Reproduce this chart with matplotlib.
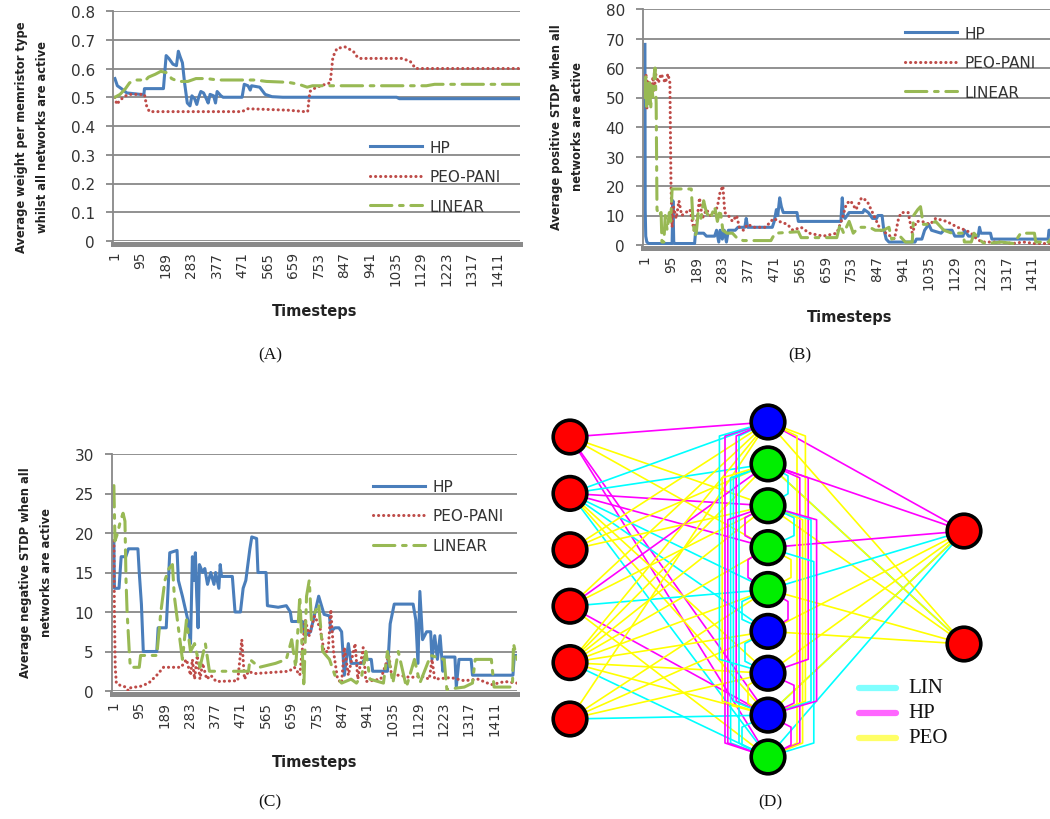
import matplotlib
matplotlib.use("Agg")
import matplotlib.pyplot as plt
from matplotlib.patches import Circle
import numpy as np

# --- data -----------------------------------------------------------------
tick_steps = [1, 95, 189, 283, 377, 471, 565, 659, 753, 847, 941, 1035, 1129, 1223, 1317, 1411]
series_names = ["HP", "PEO-PANI", "LINEAR"]

# (A) average weight per memristor type
hp_a = [(1, 0.565), (10, 0.54), (25, 0.53), (45, 0.515), (95, 0.51), (108, 0.51), (110, 0.53), (180, 0.53),
        (190, 0.645), (200, 0.635), (215, 0.615), (228, 0.61), (235, 0.66), (242, 0.64), (250, 0.62),
        (258, 0.55), (268, 0.48), (278, 0.47), (285, 0.505), (295, 0.495), (303, 0.475), (310, 0.5),
        (318, 0.52), (328, 0.515), (338, 0.495), (345, 0.48), (352, 0.51), (365, 0.505), (372, 0.48),
        (378, 0.52), (392, 0.505), (400, 0.5), (470, 0.5), (478, 0.545), (492, 0.54), (500, 0.525),
        (505, 0.54), (535, 0.535), (555, 0.51), (580, 0.502), (620, 0.5), (1040, 0.5), (1050, 0.495),
        (1495, 0.495)]
peo_a = [(1, 0.50), (8, 0.475), (20, 0.49), (40, 0.505), (60, 0.51), (110, 0.51), (118, 0.47), (128, 0.45),
         (140, 0.45), (470, 0.45), (480, 0.455), (490, 0.46), (640, 0.455), (700, 0.45), (712, 0.45),
         (720, 0.52), (735, 0.53), (760, 0.54), (795, 0.55), (805, 0.64), (820, 0.67), (850, 0.675),
         (880, 0.66), (895, 0.64), (905, 0.635), (1060, 0.635), (1090, 0.625), (1110, 0.60), (1495, 0.60)]
lin_a = [(1, 0.50), (20, 0.51), (40, 0.53), (55, 0.55), (75, 0.56), (100, 0.56), (110, 0.555), (125, 0.57),
         (150, 0.58), (170, 0.59), (195, 0.585), (210, 0.565), (235, 0.555), (270, 0.555), (300, 0.565),
         (340, 0.565), (380, 0.56), (520, 0.56), (560, 0.555), (640, 0.552), (680, 0.545), (710, 0.535),
         (730, 0.54), (1150, 0.54), (1180, 0.545), (1495, 0.545)]

# (B) average positive STDP
hp_b = [(1, 68), (2, 12), (4, 3), (8, 1), (15, 0.5), (100, 0.5), (103, 15), (106, 1), (110, 0.5), (182, 0.5),
        (185, 4), (215, 4), (225, 3), (255, 3), (262, 5), (270, 1), (275, 5), (283, 2), (290, 5), (298, 1),
        (305, 5), (330, 5), (340, 6), (365, 6), (370, 9), (375, 6), (465, 6), (472, 8), (480, 12), (485, 10),
        (492, 16), (498, 13), (505, 11), (555, 11), (560, 8), (715, 8), (720, 16), (724, 10), (730, 9),
        (745, 11), (795, 11), (800, 12), (815, 11), (830, 9), (845, 9), (850, 10), (865, 10), (870, 6),
        (880, 2), (890, 1), (985, 1), (990, 2), (1010, 2), (1020, 5), (1035, 7), (1045, 5), (1080, 4),
        (1090, 5), (1120, 5), (1130, 3), (1160, 3), (1165, 5), (1180, 3), (1215, 3), (1220, 6), (1225, 4),
        (1260, 4), (1265, 2), (1470, 2), (1473, 5), (1495, 5)]
peo_b = [(1, 50), (5, 58), (8, 46), (12, 56), (16, 48), (20, 55), (25, 50), (30, 57), (35, 52), (40, 58),
         (50, 55), (60, 58), (75, 55), (85, 58), (92, 55), (96, 20), (100, 6), (105, 13), (115, 9), (125, 15),
         (135, 10), (150, 11), (165, 12), (180, 5), (190, 8), (200, 16), (210, 9), (225, 12), (240, 10),
         (255, 11), (265, 13), (275, 18), (285, 20), (292, 11), (305, 10), (320, 8), (335, 10), (345, 6),
         (360, 5), (375, 7), (400, 6), (440, 6), (470, 9), (490, 8), (520, 7), (540, 5), (570, 6), (600, 4),
         (650, 3), (700, 4), (720, 9), (735, 14), (750, 15), (770, 12), (790, 16), (810, 15), (825, 12),
         (840, 9), (860, 5), (880, 4), (910, 2), (925, 9), (935, 11), (960, 11), (975, 4), (990, 8),
         (1010, 8), (1040, 7), (1060, 9), (1100, 8), (1140, 6), (1170, 5), (1190, 4), (1210, 2), (1230, 1),
         (1300, 1), (1340, 0.5), (1380, 1), (1420, 0.5), (1495, 0.5)]
lin_b = [(1, 50), (4, 57), (7, 47), (10, 55), (14, 48), (18, 56), (22, 46), (26, 54), (30, 50), (35, 58),
         (38, 60), (42, 48), (45, 12), (52, 10), (60, 11), (63, 1), (70, 1), (75, 10), (82, 5), (90, 11),
         (95, 8), (100, 19), (170, 19), (175, 10), (182, 3), (188, 4), (195, 11), (205, 9), (215, 15),
         (225, 11), (240, 9), (255, 13), (265, 8), (275, 12), (285, 5), (300, 4), (320, 4), (340, 2),
         (360, 1.5), (460, 1.5), (475, 4), (560, 4.5), (570, 2.5), (700, 2.5), (712, 7), (725, 4), (745, 8),
         (760, 4), (780, 6), (820, 6), (840, 5), (870, 5), (890, 6), (900, 2), (930, 3), (950, 1), (975, 1),
         (980, 10), (995, 12), (1005, 13), (1015, 7), (1040, 7), (1060, 8), (1090, 5), (1120, 4), (1160, 4),
         (1165, 1), (1190, 1), (1200, 4), (1230, 1), (1240, 0.5), (1300, 1), (1345, 0.5), (1370, 4),
         (1420, 4), (1425, 1), (1475, 1), (1480, 4), (1495, 4)]

# (C) average negative STDP
hp_c = [(1, 19), (3, 13), (20, 13), (28, 17), (45, 17), (55, 18), (90, 18), (95, 15), (103, 11), (110, 5),
        (160, 5), (165, 8), (195, 8), (202, 13), (208, 17.5), (235, 17.8), (240, 14), (255, 12), (275, 9),
        (285, 6), (292, 17), (298, 14), (303, 17.5), (308, 12), (313, 8), (318, 16), (330, 15), (338, 15.5),
        (348, 13.5), (360, 15), (372, 13.5), (378, 15), (390, 13), (395, 16), (400, 14.5), (440, 14.5),
        (450, 10), (470, 10), (480, 13), (490, 14), (505, 18), (512, 19.5), (530, 19.3), (535, 15), (565, 15),
        (570, 10.8), (610, 10.6), (640, 10.8), (655, 10), (660, 8.8), (700, 8.8), (710, 7), (730, 7.5),
        (740, 9), (760, 12), (780, 9.7), (800, 9.5), (805, 7.5), (820, 8), (835, 8), (845, 7.5), (855, 2),
        (870, 6), (880, 3.5), (920, 3.5), (930, 4), (955, 4), (960, 2.5), (1015, 2.5), (1025, 8.5),
        (1040, 11), (1110, 11), (1120, 9), (1128, 3.5), (1135, 12.6), (1145, 6.5), (1160, 7.5), (1175, 7.5),
        (1180, 4), (1190, 7), (1200, 4), (1210, 7), (1220, 2.5), (1225, 4.3), (1265, 4.3), (1270, 0.5),
        (1280, 4), (1325, 4), (1330, 2), (1480, 2), (1485, 4.5), (1495, 4.5)]
peo_c = [(1, 19), (3, 10), (6, 3), (10, 1), (25, 0.7), (45, 0.5), (55, 0), (62, 0.4), (100, 0.6), (130, 1),
         (160, 2), (185, 3), (250, 3), (270, 4), (285, 2), (292, 4), (300, 1.5), (310, 4.5), (320, 1.5),
         (330, 3.5), (345, 1.5), (360, 2), (380, 1.2), (460, 1.3), (475, 6.5), (485, 1.5), (500, 2.5),
         (520, 2.2), (650, 2.5), (670, 3), (690, 2), (710, 9), (725, 7), (745, 9.5), (765, 8), (780, 5),
         (795, 5), (805, 10.3), (815, 5), (830, 1.5), (845, 1), (855, 5.5), (870, 2), (895, 6), (905, 1.5),
         (925, 5.5), (935, 1.2), (990, 1.5), (1020, 4.5), (1030, 2), (1060, 2), (1100, 1.7), (1140, 1.9),
         (1170, 1.5), (1180, 4), (1190, 1.5), (1250, 1.7), (1300, 1.3), (1350, 1.5), (1400, 0.8),
         (1450, 1.2), (1495, 1)]
lin_c = [(1, 26), (5, 19), (15, 20), (25, 21.5), (35, 22.5), (42, 21.5), (46, 14), (50, 10), (58, 5), (62, 3),
         (95, 3), (100, 4.5), (160, 4.5), (175, 10), (190, 14), (205, 15.5), (218, 16), (225, 12), (240, 8),
         (255, 4), (270, 9), (285, 5), (300, 6), (320, 3), (340, 6), (355, 2.5), (500, 2.5), (505, 4),
         (540, 3), (600, 3.5), (640, 4), (660, 6.5), (675, 3), (690, 12), (705, 0.5), (715, 12), (725, 14),
         (733, 9), (760, 11), (775, 5), (800, 4), (820, 2), (845, 1), (880, 1.5), (900, 1), (920, 2),
         (935, 5), (950, 1.5), (1000, 1), (1015, 5), (1035, 1), (1055, 5), (1085, 0.5), (1115, 4), (1135, 1),
         (1175, 4.5), (1225, 4), (1235, 0.2), (1300, 0.5), (1330, 1), (1340, 4), (1400, 4), (1410, 0.5),
         (1478, 0.5), (1482, 6), (1495, 4)]

yticks_a = [0, 0.1, 0.2, 0.3, 0.4, 0.5, 0.6, 0.7, 0.8]
yticks_b = [0, 10, 20, 30, 40, 50, 60, 70, 80]
yticks_c = [0, 5, 10, 15, 20, 25, 30]
ylabels_a = ["0", "0.1", "0.2", "0.3", "0.4", "0.5", "0.6", "0.7", "0.8"]

# (D) network: layer sizes, hidden neuron kinds, connections (src, dst, memristor type)
n_in, n_hid, n_out = 6, 9, 2
hid_kind = ["inh", "exc", "exc", "exc", "exc", "inh", "inh", "inh", "exc"]
in_hid = [(0, 0, "HP"), (0, 2, "PEO"), (0, 3, "PEO"), (0, 7, "HP"), (0, 8, "HP"),
          (1, 0, "LIN"), (1, 1, "LIN"), (1, 2, "HP"), (1, 3, "HP"), (1, 4, "LIN"), (1, 5, "LIN"),
          (1, 6, "PEO"), (1, 8, "LIN"), (1, 7, "PEO"),
          (2, 0, "PEO"), (2, 1, "PEO"), (2, 2, "PEO"),
          (3, 0, "PEO"), (3, 1, "HP"), (3, 2, "PEO"), (3, 4, "LIN"), (3, 7, "HP"), (3, 8, "PEO"),
          (4, 0, "PEO"), (4, 1, "PEO"), (4, 2, "PEO"), (4, 3, "PEO"), (4, 4, "PEO"), (4, 5, "PEO"),
          (4, 6, "PEO"), (4, 7, "PEO"), (4, 8, "LIN"),
          (5, 0, "PEO"), (5, 4, "PEO"), (5, 5, "PEO"), (5, 6, "PEO"), (5, 7, "LIN")]
hid_out = [(0, 0, "HP"), (0, 1, "PEO"), (1, 0, "HP"), (1, 1, "LIN"), (1, 1, "PEO"), (2, 1, "PEO"),
           (3, 0, "HP"), (4, 0, "LIN"), (4, 1, "PEO"), (5, 0, "PEO"), (5, 1, "PEO"), (6, 0, "PEO"),
           (7, 0, "LIN"), (7, 0, "PEO"), (8, 0, "LIN")]
hid_long = [(0, 8, "LIN"), (0, 8, "PEO"), (0, 7, "HP"), (1, 8, "HP"), (1, 7, "LIN"), (2, 8, "PEO"),
            (1, 8, "LIN"), (0, 7, "PEO"), (2, 8, "HP"), (1, 6, "HP"), (0, 8, "HP"), (2, 7, "LIN"),
            (1, 7, "PEO"), (3, 8, "LIN"), (0, 6, "LIN"), (2, 7, "HP")]
hid_short = [(1, 2, "LIN"), (2, 3, "HP"), (2, 3, "LIN"), (3, 4, "HP"), (3, 4, "PEO"), (4, 5, "LIN"),
             (4, 5, "HP"), (5, 6, "LIN"), (6, 7, "HP"), (6, 7, "PEO"), (7, 8, "HP"), (7, 8, "LIN")]

# --- style ----------------------------------------------------------------
W, H = 1050, 820
BLUE, RED, GREEN = "#4a7ebb", "#be4b48", "#98b954"
GRID = "#888888"
TXT = "#333333"
edge_col = {"LIN": "#00ffff", "HP": "#ff00ff", "PEO": "#ffff00"}
legend_col = {"LIN": "#80ffff", "HP": "#ff66ff", "PEO": "#ffff66"}
node_col = {"inh": "#0000ff", "exc": "#00ee00"}


def box(l, t, r, b):
    return [l / W, 1 - b / H, (r - l) / W, (b - t) / H]


def ftext(x, y, s, **kw):
    fig.text(x / W, 1 - y / H, s, **kw)


def line_panel(ax, hp, peo, lin, yticks, ylabels, leg_anchor):
    styles = [(hp, BLUE, "-"), (peo, RED, (0, (0.05, 1.6))), (lin, GREEN, (0, (7, 2.5, 1.2, 2.5)))]
    for data, col, ls in styles:
        t, v = zip(*data)
        ax.plot(t, v, color=col, lw=2.2, linestyle=ls, solid_joinstyle="round", dash_capstyle="round")
    ax.set_xlim(-6, 1495)
    ax.set_ylim(yticks[0], yticks[-1])
    ax.set_yticks(yticks)
    if ylabels is not None:
        ax.set_yticklabels(ylabels)
    ax.set_xticks(tick_steps)
    ax.set_xticklabels([str(s) for s in tick_steps])
    ax.yaxis.grid(True, color=GRID, lw=1.3)
    ax.set_axisbelow(True)
    for s in ["top", "right"]:
        ax.spines[s].set_visible(False)
    ax.spines["left"].set_color(GRID)
    ax.spines["left"].set_linewidth(1.3)
    ax.spines["bottom"].set_color("#8a8a8a")
    ax.spines["bottom"].set_linewidth(3.6)
    ax.spines["bottom"].set_position(("outward", 2))
    ax.tick_params(axis="y", direction="out", length=5, width=1.3, color=GRID, pad=8,
                   labelsize=11, labelcolor=TXT)
    ax.tick_params(axis="x", length=0, pad=5, labelsize=9.8, labelcolor=TXT, labelrotation=90)
    ax.legend(series_names, loc="upper left", bbox_to_anchor=leg_anchor, frameon=False,
              borderpad=0, borderaxespad=0, handlelength=3.4, handletextpad=0.5,
              labelspacing=0.95, fontsize=11, labelcolor=TXT)


fig = plt.figure(figsize=(10.5, 8.2), dpi=100)

ax_a = fig.add_axes(box(113, 12, 520, 242))
line_panel(ax_a, hp_a, peo_a, lin_a, yticks_a, ylabels_a, (0.631, 0.44))

ax_b = fig.add_axes(box(643, 10, 1055, 246))
line_panel(ax_b, hp_b, peo_b, lin_b, yticks_b, None, (0.635, 0.93))

ax_c = fig.add_axes(box(112, 455, 517, 692))
line_panel(ax_c, hp_c, peo_c, lin_c, yticks_c, None, (0.644, 0.895))

ylab = dict(rotation=90, ha="center", va="center", multialignment="center", fontsize=9.2,
            fontweight="bold", fontstretch="condensed", color="#222222", linespacing=1.75)
ftext(32, 137, "Average weight per memristor type\nwhilst all networks are active", **ylab)
ftext(567, 127, "Average positive STDP when all\nnetworks are active", **ylab)
ftext(36, 573, "Average negative STDP when all\nnetworks are active", **ylab)

xlab = dict(ha="center", va="center", fontsize=10.5, fontweight="bold", color="#222222")
ftext(315, 312, "Timesteps", **xlab)
ftext(850, 318, "Timesteps", **xlab)
ftext(315, 763, "Timesteps", **xlab)

cap = dict(ha="center", va="center", fontsize=12.5, family="Liberation Serif", color="#111111")
ftext(270, 355, "(A)", **cap)
ftext(800, 355, "(B)", **cap)
ftext(270, 802, "(C)", **cap)
ftext(770, 802, "(D)", **cap)

# --- (D) network diagram, drawn in pixel units ----------------------------
ax_d = fig.add_axes(box(540, 400, 1050, 800))
ax_d.set_xlim(540, 1050)
ax_d.set_ylim(800, 400)
ax_d.axis("off")

x_in, x_hid, x_out = 570, 768, 964
y_in = np.linspace(438, 720, n_in)
y_hid = np.linspace(423, 758, n_hid)
y_out = np.linspace(532, 645, n_out)
ew = 1.2

for i, j, kind in in_hid:
    ax_d.plot([x_in, x_hid], [y_in[i], y_hid[j]], color=edge_col[kind], lw=ew, zorder=1)
for i, j, kind in hid_out:
    ax_d.plot([x_hid, x_out], [y_hid[i], y_out[j]], color=edge_col[kind], lw=ew, zorder=1)

for k, (i, j, kind) in enumerate(hid_long):
    side = -1 if k % 2 == 0 else 1
    dx = side * (29 + (k // 2) * 2.8)
    px = [x_hid, x_hid + dx, x_hid + dx, x_hid]
    py = [y_hid[i], y_hid[i] + 14, y_hid[j] - 14, y_hid[j]]
    ax_d.plot(px, py, color=edge_col[kind], lw=ew, zorder=2)

for k, (i, j, kind) in enumerate(hid_short):
    side = 1 if k % 2 == 0 else -1
    dx = side * (20 + (k % 3) * 3)
    px = [x_hid, x_hid + dx, x_hid + dx, x_hid]
    py = [y_hid[i], y_hid[i] + 12, y_hid[j] - 12, y_hid[j]]
    ax_d.plot(px, py, color=edge_col[kind], lw=ew, zorder=2)

r = 16.8
for y in y_in:
    ax_d.add_patch(Circle((x_in, y), r, facecolor="#ff0000", edgecolor="black", lw=2.6, zorder=5))
for y, kind in zip(y_hid, hid_kind):
    ax_d.add_patch(Circle((x_hid, y), r, facecolor=node_col[kind], edgecolor="black", lw=2.6, zorder=5))
for y in y_out:
    ax_d.add_patch(Circle((x_out, y), r, facecolor="#ff0000", edgecolor="black", lw=2.6, zorder=5))

for k, kind in enumerate(["LIN", "HP", "PEO"]):
    yy = 689 + k * 25
    ax_d.plot([859, 896], [yy, yy], color=legend_col[kind], lw=4.5, solid_capstyle="round", zorder=3)
    ax_d.text(908, yy, kind, ha="left", va="center", fontsize=15, family="Liberation Serif", color="#111111")

fig.savefig("out.png", dpi=100)
